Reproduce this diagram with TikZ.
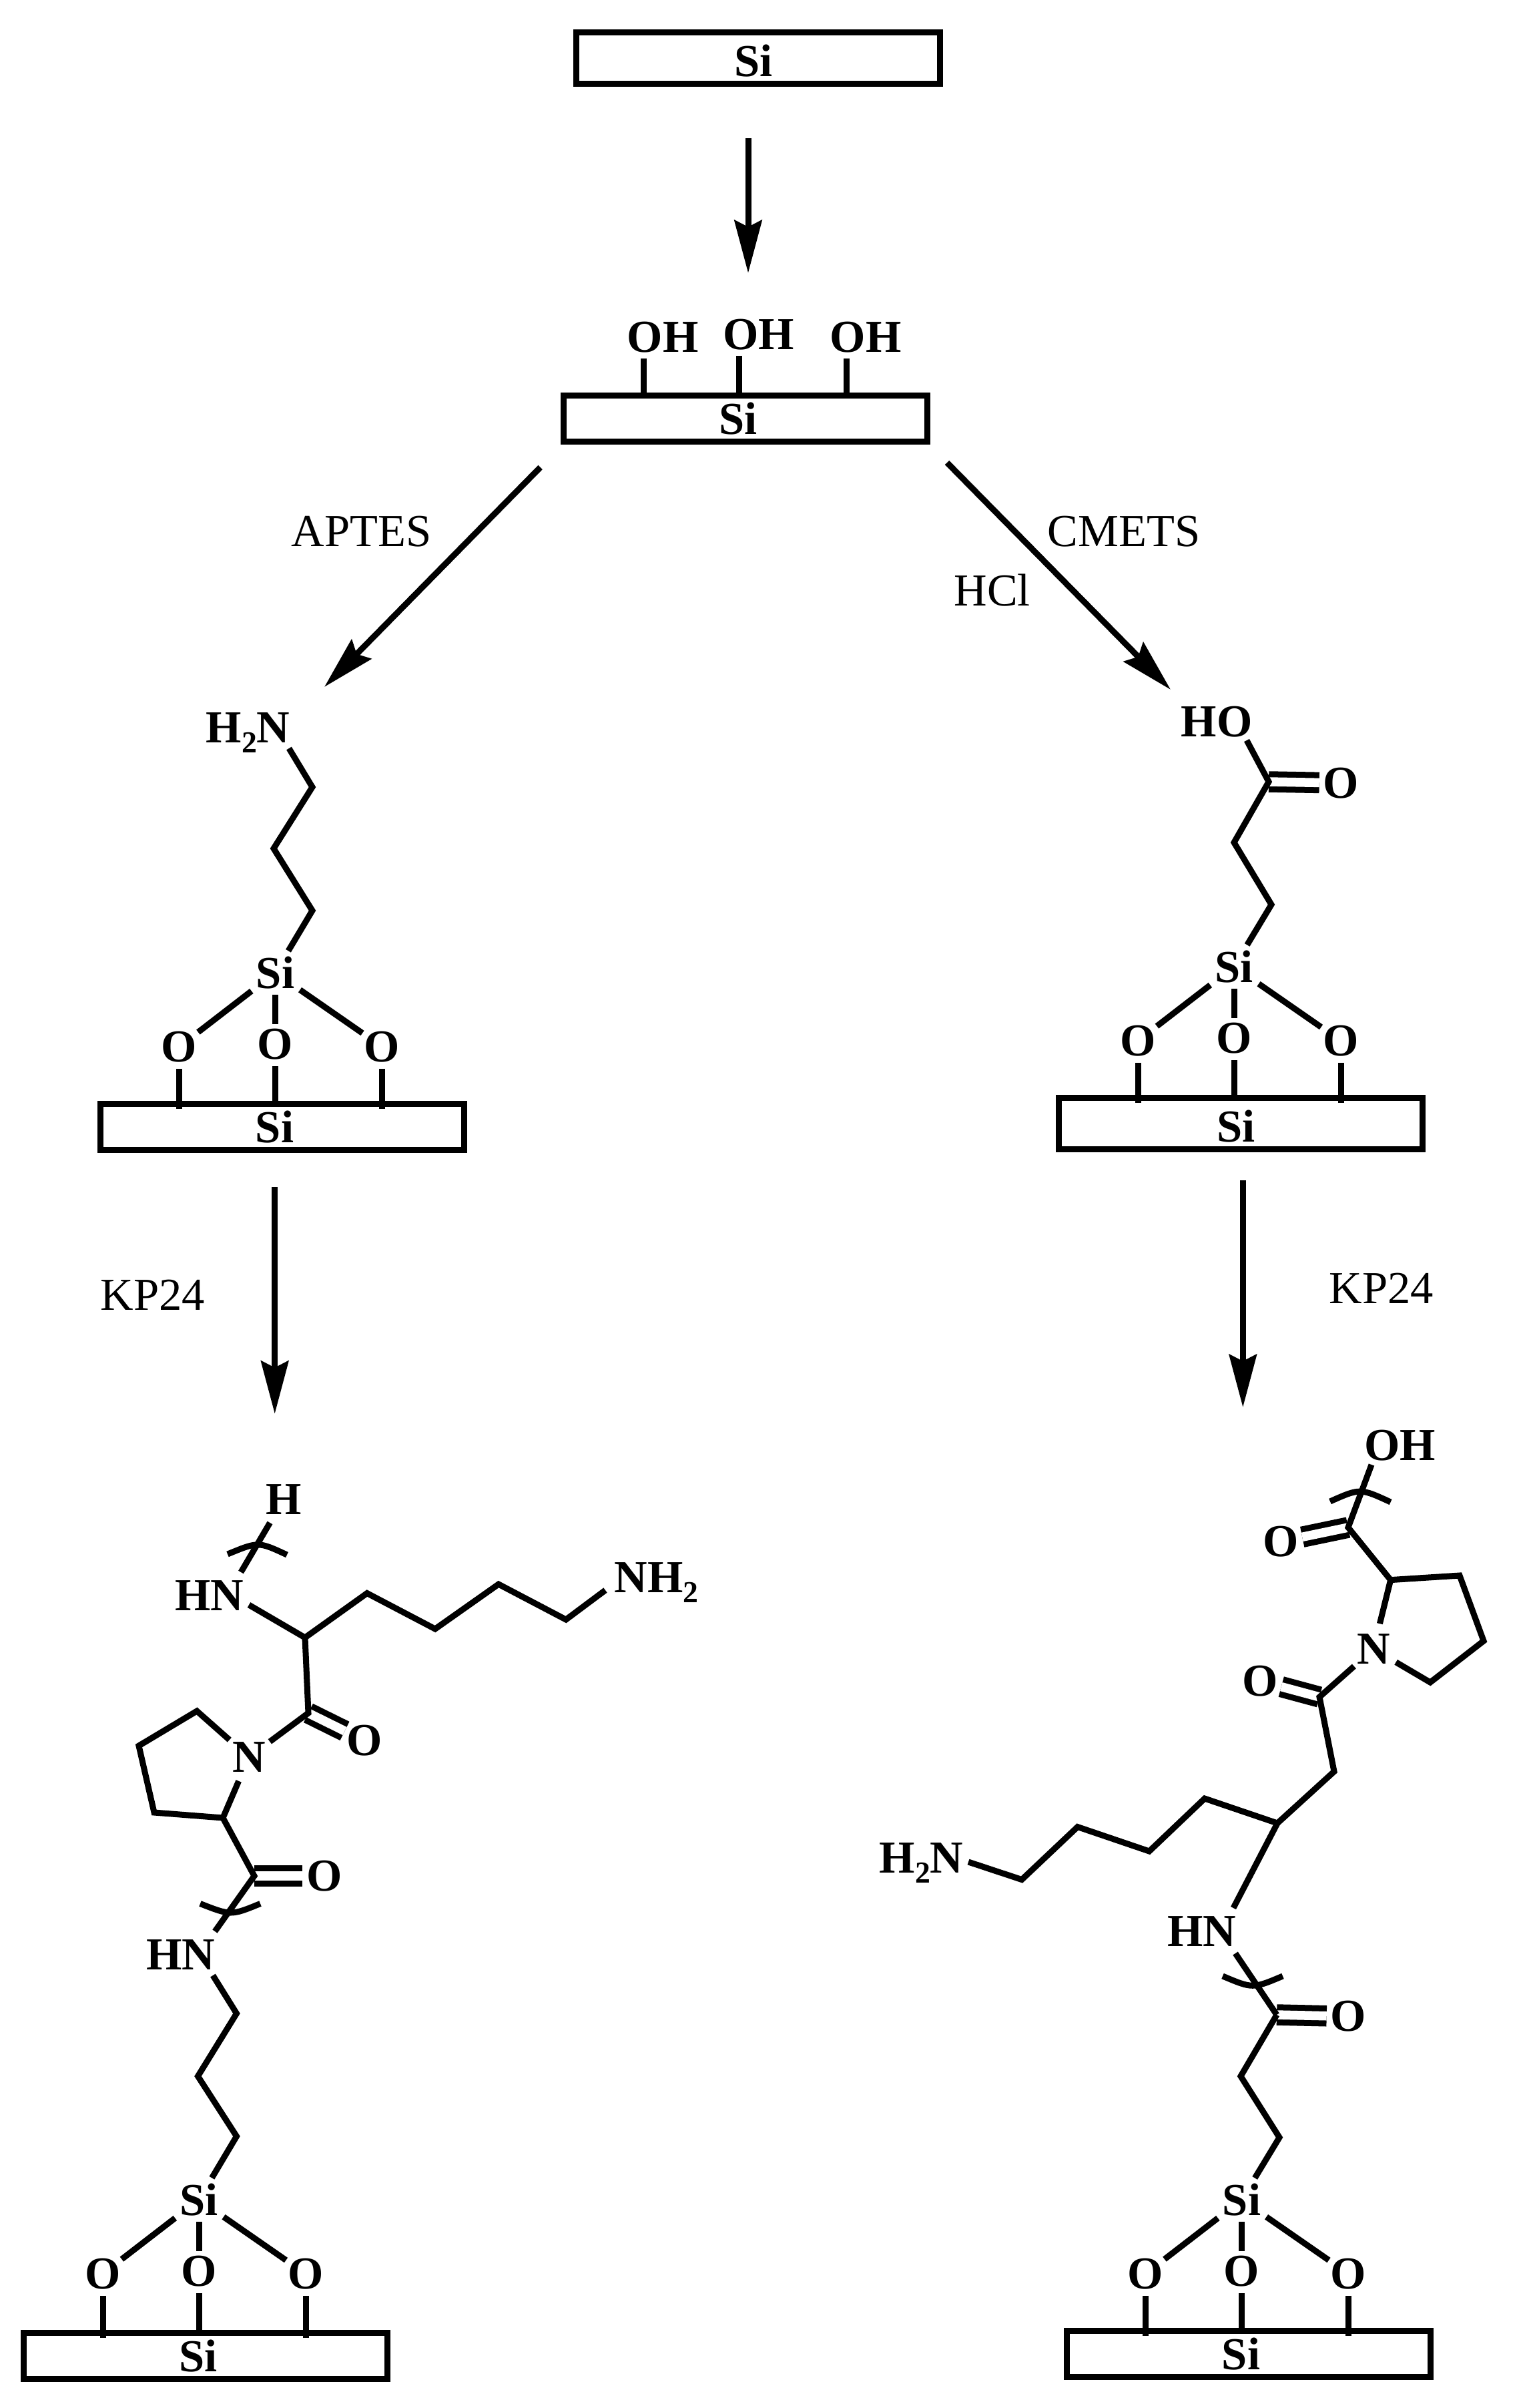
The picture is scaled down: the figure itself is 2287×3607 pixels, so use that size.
\documentclass[tikz,border=0pt]{standalone}
\usepackage{fontspec}
\setmainfont{Liberation Serif}
\usetikzlibrary{arrows.meta}
\tikzset{
  bond/.style={line width=0.09cm},
  dbond/.style={bond,double,double distance=0.135cm,shorten >=-0.03cm},
  reaction/.style={line width=0.09cm,-{Stealth[length=0.79cm,width=0.41cm,inset=0.1cm]}},
  atom/.style={circle,inner sep=0pt,font=\bfseries\fontsize{19.5pt}{22pt}\selectfont},
  ringatom/.style={atom,inner sep=1pt},
  chemgroup/.style={inner sep=0pt,font=\bfseries\fontsize{19.5pt}{22pt}\selectfont},
  reagent/.style={anchor=base west,inner sep=0pt,font=\fontsize{19.5pt}{22pt}\selectfont},
  slab/.style={draw,line width=0.09cm,anchor=north west,inner sep=0pt,minimum width=5.45cm}
}
\newcommand{\subtwo}{\raisebox{-0.15cm}{\fontsize{13pt}{13pt}\selectfont 2}}
\newcommand{\sislab}[4]{
  \node[slab,minimum height=#4*0.01cm] (#1) at (#2,#3) {};
  \node[atom] (#1si) at ([shift={({266+(#4-69)/2},{#4-30})}]#1.north west) {Si};
}
\newcommand{\silinks}[3]{
  \begin{scope}[shift={(#2,#3)}]
  \node[atom] (#1top) at (267,-192) {Si};
  \node[atom] (#1oa) at (123,-81) {O};
  \node[atom] (#1ob) at (267,-85) {O};
  \node[atom] (#1oc) at (427,-81) {O};
  \draw[bond,shorten <=0.07cm] (#1top) -- (#1oa);
  \draw[bond,shorten <=-0.05cm,shorten >=-0.06cm] (#1top) -- (#1ob);
  \draw[bond,shorten <=0.07cm] (#1top) -- (#1oc);
  \draw[bond,shorten <=-0.03cm,shorten >=-0.12cm] (#1oa) -- (#1oa |- #1.north);
  \draw[bond,shorten <=-0.03cm] (#1ob) -- (#1ob |- #1.north);
  \draw[bond,shorten <=-0.03cm,shorten >=-0.12cm] (#1oc) -- (#1oc |- #1.north);
  \end{scope}
}
\begin{document}
\begin{tikzpicture}[x=0.01cm,y=-0.01cm]
\useasboundingbox (0,0) rectangle (2287,3607);

\sislab{bare}{859}{44}{77}
\sislab{hydrox}{840}{587.6}{69}
\foreach \i/\x/\y in {a/939/528,b/1082.5/524,c/1243/528}{
  \node[chemgroup,anchor=base west] (oh\i) at (\x,\y) {OH};
  \coordinate (oh\i b) at ([shift={(25,9)}]oh\i.base west);
  \draw[bond] (oh\i b) -- (oh\i b |- hydrox.north);
}
\coordinate (acta) at (1121,207);
\coordinate (actb) at (1121,409);
\draw[reaction] (acta) -- (actb);

\coordinate (aptesa) at (809.6,700);
\coordinate (aptesb) at (486,1029);
\draw[reaction] (aptesa) -- (aptesb);
\coordinate (cmetsa) at (1419,693);
\coordinate (cmetsb) at (1754,1033);
\draw[reaction] (cmetsa) -- (cmetsb);
\node[reagent] (aptes) at (436,819) {APTES};
\node[reagent] (cmets) at (1569,819) {CMETS};
\node[reagent] (hcl) at (1429,908) {HCl};

\sislab{amine}{145.5}{1649}{69}
\silinks{amine}{145.5}{1649}
\node[chemgroup,anchor=base west] (nhtwoa) at (308,1112) {H\subtwo N};
\coordinate (aminea) at (468,1179);
\coordinate (amineb) at (410,1271);
\coordinate (aminec) at (468,1364);
\draw[bond] ([shift={(125,9)}]nhtwoa.base west) -- (aminea) -- (amineb) -- (aminec) -- (aminetop);

\sislab{acid}{1582}{1640}{77}
\silinks{acid}{1582}{1640}
\node[chemgroup,anchor=base west] (hoa) at (1769,1103) {HO};
\coordinate (acidc) at (1901,1171);
\node[atom] (acido) at (2009.6,1173) {O};
\coordinate (acida) at (1849,1262);
\coordinate (acidb) at (1905,1355);
\draw[dbond] (acidc) -- (acido);
\draw[bond] ([shift={(99,6)}]hoa.base west) -- (acidc) -- (acida) -- (acidb) -- (acidtop);

\coordinate (kpla) at (411.7,1778);
\coordinate (kplb) at (411.7,2117.7);
\draw[reaction] (kpla) -- (kplb);
\node[reagent] (kpl) at (150,1962) {KP24};
\coordinate (kpra) at (1862.3,1768);
\coordinate (kprb) at (1862.3,2108);
\draw[reaction] (kpra) -- (kprb);
\node[reagent] (kpr) at (1991,1952) {KP24};

\node[ringatom] (hl) at (425,2246) {H};
\node[chemgroup] (hnla) at (314,2390) {HN};
\node[chemgroup,anchor=base west] (nhtwol) at (920,2385) {NH\subtwo};
\coordinate (lca) at (457,2453);
\coordinate (lcb) at (550,2386.5);
\coordinate (lcc) at (652,2440);
\coordinate (lcd) at (747,2373);
\coordinate (lce) at (848,2426);
\coordinate (lco) at (462,2566);
\node[atom] (lo) at (546,2607.5) {O};
\node[ringatom] (ln) at (373,2632) {N};
\coordinate (lra) at (295,2563);
\coordinate (lrb) at (208,2615);
\coordinate (lrc) at (231,2715);
\coordinate (lrd) at (334,2723);
\coordinate (lcp) at (381,2810);
\node[atom] (lop) at (486,2810) {O};
\node[chemgroup] (hnlb) at (271,2928) {HN};
\coordinate (lsa) at (354.5,3016);
\coordinate (lsb) at (296.5,3110);
\coordinate (lsc) at (354.5,3200);
\draw[dbond] (lco) -- (lo);
\draw[dbond] (lcp) -- (lop);
\draw[bond] ([shift={(47,-35)}]hnla.center) -- (hl);
\draw[bond] (341,2328) .. controls (387,2309) .. (430,2329);
\draw[bond] ([shift={(59,14)}]hnla.center) -- (lca) -- (lcb) -- (lcc) -- (lcd) -- (lce) -- ([shift={(-13,-3)}]nhtwol.base west);
\draw[bond] (lca) -- (lco) -- (ln);
\draw[bond] (ln) -- (lra) -- (lrb) -- (lrc) -- (lrd) -- (ln);
\draw[bond] (lrd) -- (lcp) -- ([shift={(51,-35)}]hnlb.center);
\draw[bond] (300,2851.5) .. controls (346,2869.5) .. (390,2851.5);
\sislab{lower}{31}{3490}{69}
\silinks{lower}{31}{3487}
\draw[bond] ([shift={(48,31)}]hnlb.center) -- (lsa) -- (lsb) -- (lsc) -- (lowertop);

\node[chemgroup,anchor=base west] (ohr) at (2043.4,2187) {OH};
\coordinate (rcp) at (2020,2288);
\node[atom] (rop) at (1919,2309) {O};
\coordinate (rra) at (2083.6,2366.6);
\coordinate (rrb) at (2187,2360);
\coordinate (rrc) at (2223,2458);
\coordinate (rrd) at (2143,2520);
\node[ringatom] (rn) at (2058,2470) {N};
\coordinate (rco) at (1977,2542);
\node[atom] (ro) at (1888,2518) {O};
\coordinate (rca) at (1999,2653.6);
\coordinate (rcb) at (1914,2731);
\coordinate (rcc) at (1805,2694);
\coordinate (rcd) at (1722,2773);
\coordinate (rce) at (1614.6,2736.5);
\coordinate (rcf) at (1531,2815.5);
\node[chemgroup,anchor=base west] (nhtwor) at (1317,2805) {H\subtwo N};
\node[chemgroup] (hnr) at (1801,2893) {HN};
\coordinate (rcq) at (1913,3018);
\node[atom] (roq) at (2020.6,3020.5) {O};
\coordinate (rsa) at (1859,3110);
\coordinate (rsb) at (1917,3201.7);
\draw[dbond] (rcp) -- (rop);
\draw[dbond] (rco) -- (ro);
\draw[dbond] (rcq) -- (roq);
\draw[bond] ([shift={(11.6,7)}]ohr.base west) -- (rcp) -- (rra);
\draw[bond] (1993,2249) .. controls (2038,2229) .. (2083.6,2250);
\draw[bond] (rn) -- (rra) -- (rrb) -- (rrc) -- (rrd) -- (rn);
\draw[bond] (rn) -- (rco) -- (rca) -- (rcb) -- (rcc) -- (rcd) -- (rce) -- (rcf) -- ([shift={(134,-16)}]nhtwor.base west);
\draw[bond] (rcb) -- ([shift={(47,-35)}]hnr.center);
\draw[bond] ([shift={(50,33)}]hnr.center) -- (rcq);
\draw[bond] (1832,2960) .. controls (1877,2979) .. (1922,2960);
\sislab{upper}{1593.5}{3487}{69}
\silinks{upper}{1593.5}{3487}
\draw[bond] (rcq) -- (rsa) -- (rsb) -- (uppertop);
\end{tikzpicture}
\end{document}
